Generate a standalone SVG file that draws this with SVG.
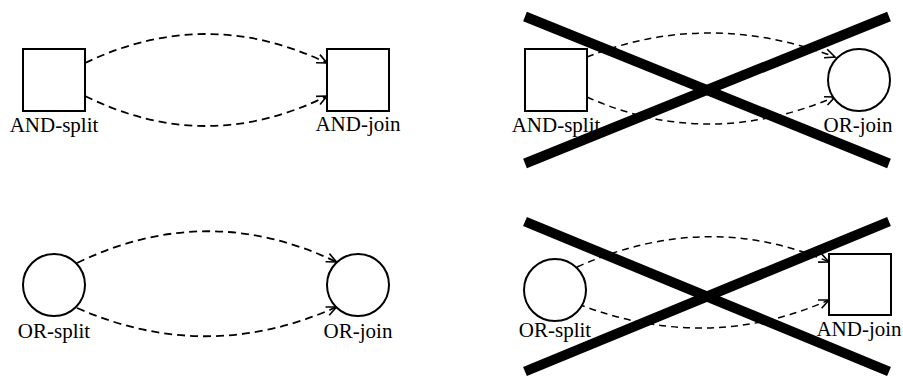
<svg xmlns="http://www.w3.org/2000/svg" width="903" height="378" viewBox="0 0 903 378">
<style>
.node{fill:#fff;stroke:#000;stroke-width:2}
.edge{fill:none;stroke:#000;stroke-width:1.8;stroke-dasharray:8 5}
.edge2{fill:none;stroke:#000;stroke-width:1.5;stroke-dasharray:7 5}
.lbl{font-family:"Liberation Serif","Times New Roman",serif;font-size:21px;text-anchor:middle;fill:#000}
.cross{stroke:#000;stroke-width:10;fill:none}
</style>
<defs>
<marker id="ah" markerWidth="14" markerHeight="12" viewBox="-12 -6 14 12" refX="0" refY="0" orient="auto" markerUnits="userSpaceOnUse">
<path d="M-10,-4.5 L0,0 L-10,4.5" fill="none" stroke="#000" stroke-width="1.6" stroke-dasharray="none"/>
</marker>
</defs>
<rect width="903" height="378" fill="#fff"/>
<g id="connectors">
<path class="edge" d="M85,63 Q206,5 327,63" marker-end="url(#ah)"/>
<path class="edge" d="M85,96 Q206,156 327,96" marker-end="url(#ah)"/>
<path class="edge2" d="M587,57 Q707,9 835,57" marker-end="url(#ah)"/>
<path class="edge2" d="M587,97 Q707,151 835,97" marker-end="url(#ah)"/>
<path class="edge" d="M77,263 Q207,200 336.5,262" marker-end="url(#ah)"/>
<path class="edge" d="M77,308 Q207,365 336.5,307" marker-end="url(#ah)"/>
<path class="edge2" d="M577,267 Q707,209 829,262" marker-end="url(#ah)"/>
<path class="edge2" d="M578,304 Q707,354 829,300" marker-end="url(#ah)"/>
</g>
<g id="and-split-1"><rect class="node" x="23" y="49" width="62" height="62"/><text class="lbl" x="54" y="132">AND-split</text></g>
<g id="and-join-1"><rect class="node" x="327" y="49" width="62" height="62"/><text class="lbl" x="358" y="131">AND-join</text></g>
<g id="and-split-2"><rect class="node" x="525" y="49" width="62" height="62"/><text class="lbl" x="556" y="132">AND-split</text></g>
<g id="or-join-2"><circle class="node" cx="859" cy="80" r="31"/><text class="lbl" x="858" y="132">OR-join</text></g>
<g id="or-split-3"><circle class="node" cx="54" cy="285" r="31"/><text class="lbl" x="54" y="338">OR-split</text></g>
<g id="or-join-3"><circle class="node" cx="358" cy="285" r="31"/><text class="lbl" x="358" y="338">OR-join</text></g>
<g id="or-split-4"><circle class="node" cx="555" cy="290" r="31"/><text class="lbl" x="555" y="337">OR-split</text></g>
<g id="and-join-4"><rect class="node" x="829" y="254" width="62" height="61"/><text class="lbl" x="859" y="336">AND-join</text></g>
<g id="cross-2">
<line class="cross" x1="525" y1="16.5" x2="889" y2="163.5"/>
<line class="cross" x1="525" y1="163.5" x2="889" y2="16.5"/>
</g>
<g id="cross-4">
<line class="cross" x1="525" y1="221.5" x2="889" y2="371.5"/>
<line class="cross" x1="525" y1="371.5" x2="889" y2="221.5"/>
</g>
</svg>
